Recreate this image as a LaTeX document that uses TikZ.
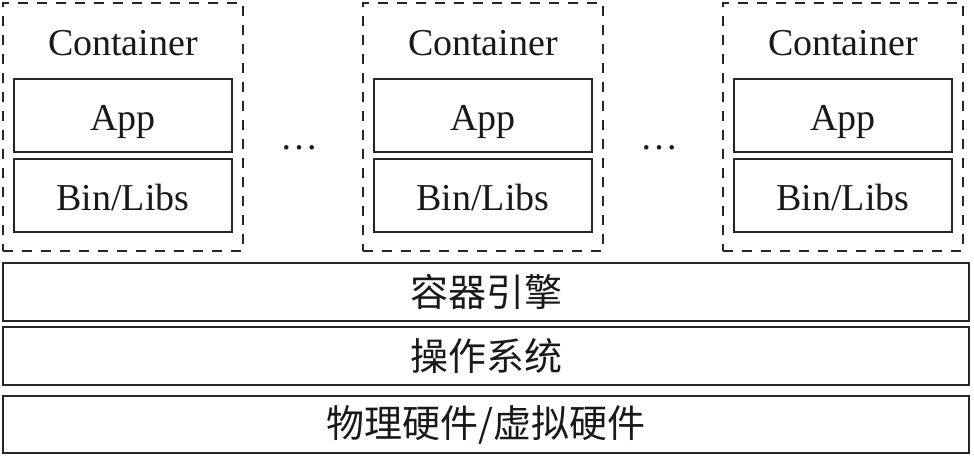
\documentclass[tikz,border=0pt]{standalone}
\usepackage{fontspec}
\setmainfont{Liberation Serif}
\newfontfamily\cjk{Noto Sans CJK SC}
\newcommand{\bigsize}{\fontsize{38}{40}\selectfont}
\definecolor{linegray}{gray}{0.15}
\tikzset{container/.style={
    draw=linegray, line width=2.2pt, dash pattern=on 10pt off 9pt,
    minimum width=240pt, minimum height=248pt, inner sep=0pt
  },
  box/.style={
    draw=linegray, line width=2.4pt,
    minimum width=218pt, minimum height=73pt, inner sep=0pt,
    text height=29pt, text depth=0pt
  },
  layer/.style={
    draw=linegray, line width=2.4pt,
    minimum width=966pt, inner sep=0pt, font=\bigsize\cjk
  }
}

\begin{document}
\begin{tikzpicture}[x=1pt,y=-1pt,font=\bigsize,text=black!90]
      \useasboundingbox (0,0) rectangle (974,459);
      \foreach \i/\x in {1/3,2/363,3/723} {
        \node[container] (c\i) at (\x+120,127) {};
        \node[anchor=base] (t\i) at (\x+120,55) {Container};
        \node[box] (app\i) at (\x+120,115.5) {App};
        \node[box] (libs\i) at (\x+120,195.5) {Bin/Libs};
      }
      \node[anchor=base] (d1) at (299,149) {…};
      \node[anchor=base] (d2) at (659,149) {…};
      \node[layer, minimum height=58pt] (engine) at (486,292) {容器引擎};
      \node[layer, minimum height=58pt] (os) at (486,356) {操作系统};
      \node[layer, minimum height=57pt] (hw) at (486,424.5) {物理硬件/虚拟硬件};
    \end{tikzpicture}
\end{document}
